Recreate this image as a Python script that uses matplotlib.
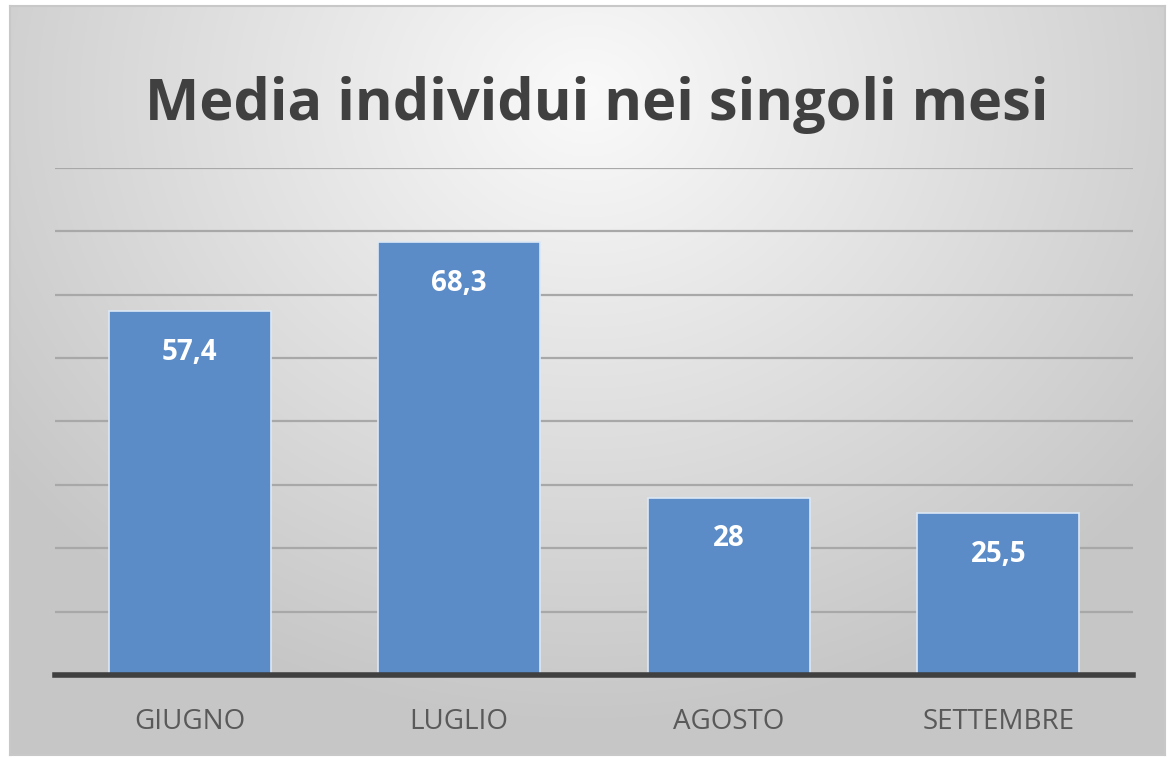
import numpy as np
import matplotlib
matplotlib.use("Agg")
import matplotlib.pyplot as plt

# dati
mesi = ["GIUGNO", "LUGLIO", "AGOSTO", "SETTEMBRE"]
valori = [57.4, 68.3, 28, 25.5]
etichette = ["57,4", "68,3", "28", "25,5"]

plt.rcParams['font.family'] = ['Open Sans', 'DejaVu Sans']

fig = plt.figure(figsize=(11.68, 7.58), dpi=100)
fig.patch.set_facecolor("white")

# sfondo con gradiente radiale
bg = fig.add_axes([10 / 1168, 3 / 758, 1155 / 1168, 749 / 758])
yy, xx = np.mgrid[0:1:400j, 0:1:600j]
r = np.sqrt(((xx - 0.5) / 0.75) ** 2 + ((yy - 0.12) / 1.0) ** 2)
shade = np.clip(0.98 - 0.24 * r, 0.78, 0.98)
bg.imshow(np.dstack([shade] * 3), aspect="auto", extent=[0, 1, 0, 1], origin="upper")
bg.set_xticks([])
bg.set_yticks([])
for s in bg.spines.values():
    s.set_color("#c8c8c8")
    s.set_linewidth(1.5)

ax = fig.add_axes([55 / 1168, 83 / 758, 1078 / 1168, 507 / 758])
ax.patch.set_alpha(0)
x = np.arange(len(mesi))
bars = ax.bar(x, valori, width=0.6, color="#5b8cc8", edgecolor="#dce8f5", linewidth=1.2, zorder=3)

ax.set_xlim(-0.5, 3.5)
ax.set_ylim(0, 80)
ax.set_yticks(np.arange(10, 81, 10))
ax.yaxis.grid(True, color="#a8a8a8", linewidth=1.6, zorder=0)
ax.tick_params(left=False, labelleft=False, bottom=False)
for s in ["top", "right", "left"]:
    ax.spines[s].set_visible(False)
ax.spines["bottom"].set_color("#404040")
ax.spines["bottom"].set_linewidth(4)
ax.spines["bottom"].set_zorder(4)

ax.set_xticks(x)
ax.set_xticklabels(mesi, fontsize=20, color="#595959")
ax.tick_params(axis="x", pad=20)

for b, lab in zip(bars, etichette):
    ax.text(b.get_x() + b.get_width() / 2, b.get_height() - 6.5, lab,
            ha="center", va="center", color="white", fontsize=20, fontweight="bold", zorder=5)

fig.text(0.511, 0.862, "Media individui nei singoli mesi", ha="center", va="center",
         fontsize=41.5, fontweight="bold", color="#404040")

plt.savefig("out.png", dpi=100)
